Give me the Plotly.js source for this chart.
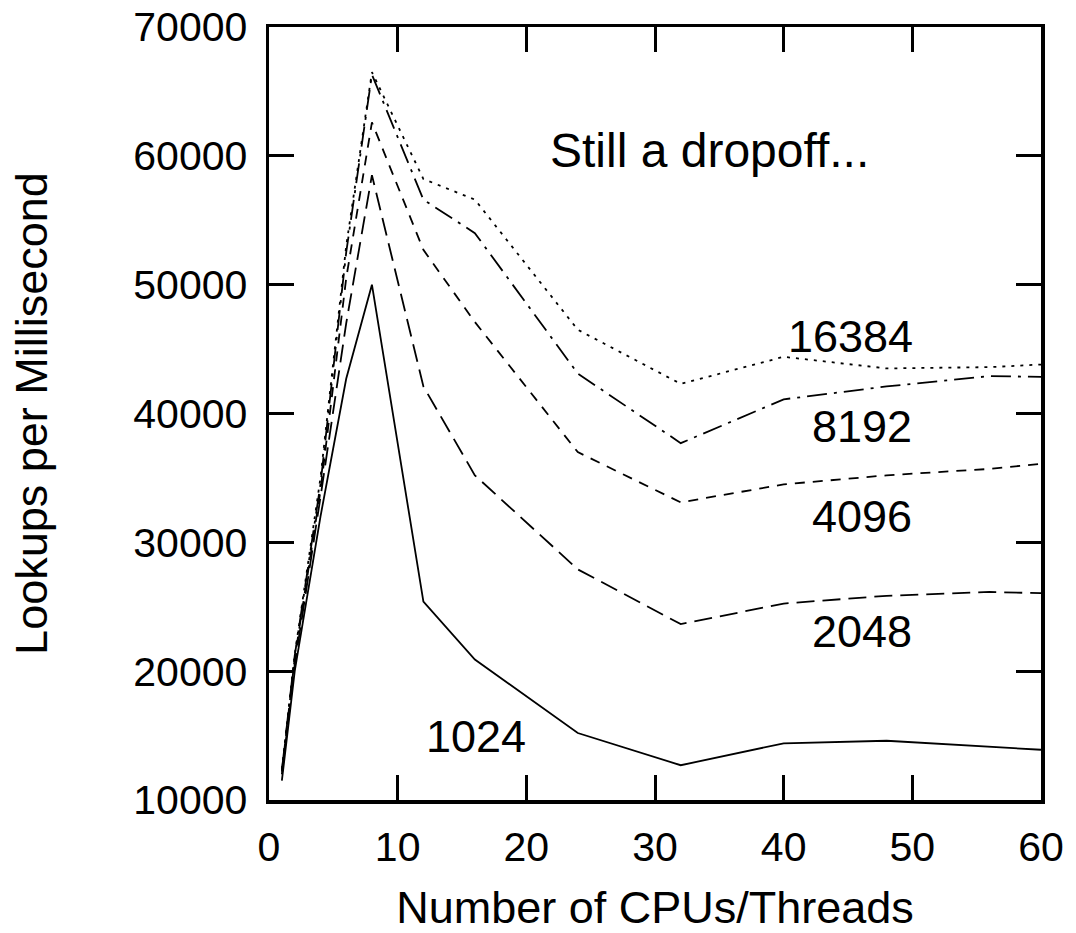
<!DOCTYPE html>
<html>
<head>
<meta charset="utf-8">
<script src="https://cdn.plot.ly/plotly-3.0.1.min.js"></script>
<style>
  html, body { margin: 0; padding: 0; background: #fff; }
  #chart { width: 1076px; height: 933px; }
</style>
</head>
<body>
<div id="chart"></div>
<script>
// Number of CPUs / threads
const threads = [1, 2, 4, 6, 8, 12, 16, 24, 32, 40, 48, 56, 60];

// Lookups per millisecond, one series per table size
const s1024  = [11500, 20000, 32000, 42700, 50000, 25400, 20900, 15200, 12700, 14400, 14600, 14150, 13900];
const s2048  = [12000, 20500, 33500, 47000, 58500, 42100, 35200, 27900, 23650, 25250, 25850, 26150, 26050];
const s4096  = [12200, 21000, 34000, 50500, 62600, 52700, 47100, 37000, 33100, 34500, 35200, 35700, 36100];
const s8192  = [12300, 21200, 34500, 52500, 66300, 56600, 54000, 43100, 37700, 41100, 42100, 42900, 42850];
const s16384 = [12400, 21300, 35000, 53000, 66500, 58200, 56600, 46500, 42300, 44400, 43500, 43600, 43800];

const seriesNames = ["1024", "2048", "4096", "8192", "16384"];
const seriesValues = [s1024, s2048, s4096, s8192, s16384];
const seriesDash = ["solid", "18px,8px", "10px,8px", "20px,7px,3px,7px", "3px,6px"];

// In-plot labels
const labelText = ["1024", "2048", "4096", "8192", "16384", "Still a dropoff..."];
const labelX = [16.1, 46.1, 46.1, 46.1, 45.2, 34.2];
const labelY = [14900, 23050, 32000, 39000, 45950, 60400];
const labelSize = [45, 45, 45, 45, 45, 48];

const FONT = '"Liberation Sans", Arial, Helvetica, sans-serif';

const traces = seriesNames.map((name, i) => ({
  type: "scatter",
  mode: "lines",
  name: name,
  x: threads,
  y: seriesValues[i],
  line: { color: "#000", width: 1.8, dash: seriesDash[i] },
  hoverinfo: "x+y+name"
}));

const annotations = labelText.map((t, i) => ({
  x: labelX[i], y: labelY[i], xref: "x", yref: "y",
  text: t, showarrow: false,
  font: { family: FONT, size: labelSize[i], color: "#000" },
  xanchor: "center", yanchor: "middle"
}));

const layout = {
  width: 1076, height: 933,
  margin: { l: 269, r: 35, t: 27, b: 133 },
  paper_bgcolor: "#fff", plot_bgcolor: "#fff",
  showlegend: false,
  font: { family: FONT, color: "#000", size: 41 },
  xaxis: {
    range: [0, 60], dtick: 10, tick0: 0,
    ticks: "inside", ticklen: 25, tickwidth: 3, tickcolor: "#000",
    showline: true, linewidth: 3.5, linecolor: "#000", mirror: "allticks",
    showgrid: false, zeroline: false,
    tickfont: { family: FONT, size: 41, color: "#000" },
    ticklabelstandoff: 8,
    title: { text: "Number of CPUs/Threads", font: { family: FONT, size: 45, color: "#000" }, standoff: 32 },
    automargin: false, fixedrange: true
  },
  yaxis: {
    range: [10000, 70000], dtick: 10000, tick0: 10000, tickformat: "d",
    ticks: "inside", ticklen: 25, tickwidth: 3, tickcolor: "#000",
    showline: true, linewidth: 3.5, linecolor: "#000", mirror: "allticks",
    showgrid: false, zeroline: false,
    tickfont: { family: FONT, size: 41, color: "#000" },
    ticklabelstandoff: 10,
    title: { text: "Lookups per Millisecond", font: { family: FONT, size: 45, color: "#000" }, standoff: 72 },
    automargin: false, fixedrange: true
  },
  annotations: annotations
};

Plotly.newPlot("chart", traces, layout, { displayModeBar: false, staticPlot: true });
</script>
</body>
</html>
